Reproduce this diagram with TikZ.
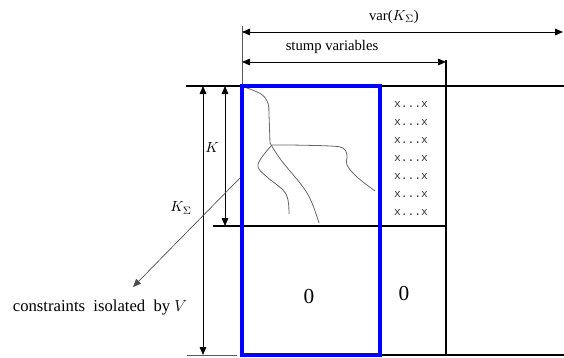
\documentclass[tikz,border=0pt]{standalone}
\usepackage{fontspec}
\setmainfont{Liberation Serif}
\setmonofont{Liberation Mono}
\usetikzlibrary{positioning,arrows.meta}
\tikzset{
  dimln/.style={{Triangle[length=6pt,width=5pt]}-{Triangle[length=6pt,width=5pt]},line width=0.6pt},
  leader/.style={-{Triangle[length=6pt,width=5pt]},line width=0.5pt,black!70},
  extln/.style={line width=0.6pt,black!65},
  gridln/.style={line width=0.8pt},
  stump/.style={draw=blue,line width=2.3pt},
  sketch/.style={line width=0.6pt,black!60},
  lbl/.style={font=\fontsize{11}{13}\selectfont,inner sep=1pt},
  xx/.style={font=\ttfamily\fontsize{8.5}{9}\selectfont,inner sep=0pt,black!80},
  zerolbl/.style={font=\fontsize{16}{18}\selectfont,inner sep=0pt},
}

\begin{document}
\begin{tikzpicture}[x=0.75pt,y=-0.75pt]
  \useasboundingbox (0,0) rectangle (564,357);
  % matrix corners
  \coordinate (TL) at (242,86);
  \coordinate (TR) at (564,86);
  \coordinate (ML) at (242,226);
  \coordinate (MR) at (446,226);
  \coordinate (BL) at (242,355);
  \coordinate (BR) at (564,355);
  \coordinate (ST) at (446,60);
  \coordinate (SB) at (446,355);
  % dimension ends
  \coordinate (v1) at (242,32);
  \coordinate (v2) at (563,32);
  \coordinate (s1) at (242,62);
  \coordinate (s2) at (446,62);
  \coordinate (k1) at (225,86);
  \coordinate (k2) at (225,226);
  \coordinate (ks1) at (203,86);
  \coordinate (ks2) at (203,355);
  % grid
  \draw[extln] (242,26)--(TL);
  \draw[gridln] (186,86)--(TR);
  \draw[gridln] (ML)--(MR);
  \draw[gridln] (213,226)--(ML);
  \draw[gridln] (BL)--(BR);
  \draw[extln] (187,355)--(237,355);
  \draw[gridln] (ST)--(SB);
  % widths
  \draw[dimln] (v1)--(v2);
  \node[lbl] (var) at (394,17) {var($K_\Sigma$)};
  \draw[dimln] (s1)--(s2);
  \node[lbl] (stv) at (332,47) {stump variables};
  % heights
  \draw[dimln] (k1)--(k2);
  \node[lbl] (K) at (212,148) {$K$};
  \draw[dimln] (ks1)--(ks2);
  \node[lbl] (Ks) at (181,208) {$K_\Sigma$};
  % sketch of the constraints
  \draw[sketch] plot[smooth,tension=0.6] coordinates {(244,87) (261,94) (268,103) (269,115) (270,143)};
  \draw[sketch] plot[smooth,tension=0.6] coordinates {(270,143) (281,160) (303,187) (312,203) (319,223)};
  \draw[sketch] plot[smooth,tension=0.6] coordinates {(272,145) (290,145) (330,146) (343,148) (347,155) (347,165) (357,177) (375,191)};
  \draw[sketch] plot[smooth,tension=0.6] coordinates {(272,145) (262,157) (258,167) (267,177) (283,190) (288,200) (289,214)};
  % x...x column
  \foreach \r in {0,...,6}
    \node[xx] (x\r) at (411,105+18*\r) {x...x};
  \node[zerolbl] (z1) at (309,297) {0};
  \node[zerolbl] (z2) at (404,294) {0};
  % leader to the caption
  \coordinate (lead) at (240,178);
  \coordinate (tip) at (133,287);
  \draw[leader] (lead)--(tip);
  \node[lbl,font=\fontsize{12.5}{14}\selectfont] (cons) at (100,308) {constraints\ \ isolated\ \ by $V$};
  \draw[stump] (TL) rectangle (380,355);
\end{tikzpicture}
\end{document}
